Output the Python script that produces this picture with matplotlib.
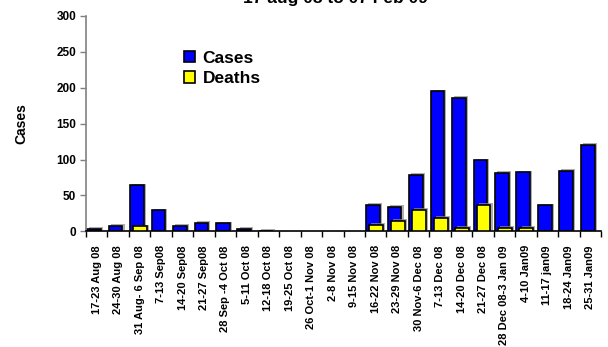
import numpy as np
import matplotlib
matplotlib.use('Agg')
import matplotlib.pyplot as plt
import matplotlib.patheffects as pe

plt.rcParams['font.family'] = ['Liberation Sans', 'DejaVu Sans']
plt.rcParams['font.weight'] = 'bold'

weeks = ['17-23 Aug 08', '24-30 Aug 08', '31 Aug- 6 Sep 08', '7-13 Sep08',
         '14-20 Sep08', '21-27 Sep08', '28 Sep -4 Oct 08', '5-11 Oct 08',
         '12-18 Oct 08', '19-25 Oct 08', '26 Oct-1 Nov 08', '2-8 Nov 08',
         '9-15 Nov 08', '16-22 Nov 08', '23-29 Nov 08', '30 Nov-6 Dec 08',
         '7-13 Dec 08', '14-20 Dec 08', '21-27 Dec 08', '28 Dec 08-3 Jan 09',
         '4-10 Jan09', '11-17 jan09', '18-24 Jan09', '25-31 Jan09']
cases = [3, 8, 64, 29, 8, 12, 11, 3, 1, 0, 0, 0,
         0, 37, 34, 79, 195, 186, 99, 81, 82, 36, 84, 120]
deaths = [0, 0, 7, 0, 0, 0, 0, 0, 0, 0, 0, 0,
          0, 9, 15, 30, 19, 5, 37, 5, 5, 0, 0, 0]

fig = plt.figure(figsize=(6.08, 3.47), dpi=100)
ax = fig.add_axes([86/608, 1 - 231.3/347, 515/608, 215.4/347])

x = np.arange(len(weeks))
cases = np.array(cases)
deaths = np.array(deaths)
shadow = [pe.SimplePatchShadow(offset=(1.5, 1.2), shadow_rgbFace='0.55', alpha=0.7), pe.Normal()]

m = cases > 0
ax.bar(x[m] + 0.38, cases[m], width=0.64, color='#0000ff', edgecolor='black',
       linewidth=1.2, label='Cases', path_effects=shadow, zorder=2)
m = deaths > 0
ax.bar(x[m] + 0.525, deaths[m], width=0.65, color='#ffff00', edgecolor='black',
       linewidth=1.2, label='Deaths', path_effects=shadow, zorder=3)

ax.set_xlim(0, len(weeks))
ax.set_ylim(0, 300)
ax.set_yticks(range(0, 301, 50))
ax.set_xticks(x + 0.5)
ax.set_xticklabels(weeks, rotation=90, fontsize=8, fontweight='bold')
ax.set_xticks(np.arange(len(weeks) + 1), minor=True)
ax.tick_params(axis='x', which='major', length=0, pad=10)
ax.tick_params(axis='x', which='minor', length=4, width=1, color='black')
ax.tick_params(axis='y', length=4, width=1, color='#808080', labelsize=8.5, pad=3)
for lbl in ax.get_yticklabels():
    lbl.set_fontweight('bold')

for s in ['top', 'right']:
    ax.spines[s].set_visible(False)
ax.spines['left'].set_color('#808080')
ax.spines['left'].set_linewidth(1.2)
ax.spines['bottom'].set_color('black')
ax.spines['bottom'].set_linewidth(1.2)

ax.set_ylabel('Cases', fontsize=10, fontweight='bold', labelpad=20)

leg = ax.legend(loc='upper left', bbox_to_anchor=(168/608, 1 - 35/347),
                bbox_transform=fig.transFigure, frameon=False,
                prop={'size': 12.5, 'weight': 'bold'}, handlelength=0.65,
                handleheight=0.65, handletextpad=0.45, labelspacing=0.3)
for h in leg.legend_handles:
    h.set_path_effects([])

fig.text(0.551, 1 - 2.5/347, '17 aug 08 to 07 Feb 09', ha='center', va='baseline',
         fontsize=12.5, fontweight='bold')

fig.savefig('out.png', dpi=100)
